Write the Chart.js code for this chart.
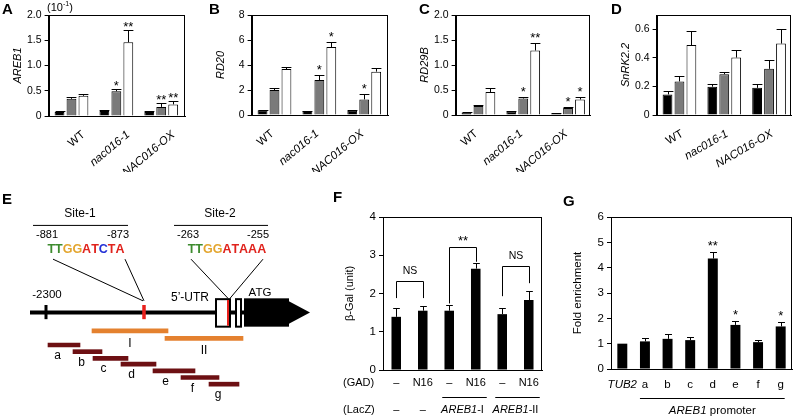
<!DOCTYPE html>
<html>
<head>
<meta charset="utf-8">
<script src="https://cdn.jsdelivr.net/npm/chart.js@4.4.1/dist/chart.umd.min.js"></script>
<style>
  body { margin: 0; background: #fff; }
  #fig { position: relative; width: 793px; height: 420px; overflow: hidden; font-family: "Liberation Sans", Arial, sans-serif; color: #000; }
  #fig canvas { position: absolute; }
  .tag { position: absolute; font-weight: bold; font-size: 15px; line-height: 15px; z-index: 2; }
  .unit { position: absolute; left: 47px; top: 1px; font-size: 11px; line-height: 13px; z-index: 2; }
  .unit sup { font-size: 7px; line-height: 0; }
</style>
</head>
<body>
<div id="fig">
  <div class="tag" style="left:2px;top:1px">A</div>
  <div class="tag" style="left:209px;top:1px">B</div>
  <div class="tag" style="left:419px;top:1px">C</div>
  <div class="tag" style="left:611px;top:1px">D</div>
  <div class="tag" style="left:2px;top:191px">E</div>
  <div class="tag" style="left:333px;top:189px">F</div>
  <div class="tag" style="left:563px;top:193px">G</div>
  <div class="unit">(10<sup>-1</sup>)</div>
  <canvas id="chartE"></canvas>
  <canvas id="chartA"></canvas>
  <canvas id="chartB"></canvas>
  <canvas id="chartC"></canvas>
  <canvas id="chartD"></canvas>
  <canvas id="chartF"></canvas>
  <canvas id="chartG"></canvas>
</div>
<script>
const FONT = '"Liberation Sans", Arial, sans-serif';
Chart.defaults.font.family = FONT;
Chart.defaults.color = '#000';

// ---------- data (A-D): rows are the black, grey and white bars ----------
const genotypes = ['WT', 'nac016-1', 'NAC016-OX'];
const barColors = ['#000000', '#7a7a7a', '#ffffff'];

const areb1Mean = [[0.08, 0.10, 0.08], [0.34, 0.49, 0.18], [0.40, 1.46, 0.23]];
const areb1Err = [[0.01, 0.01, 0.01], [0.03, 0.05, 0.07], [0.03, 0.25, 0.06]];
const areb1Sig = [['', '', ''], ['', '*', '**'], ['', '**', '**']];

const rd20Mean = [[0.38, 0.32, 0.35], [2.0, 2.8, 1.25], [3.68, 5.44, 3.47]];
const rd20Err = [[0.05, 0.03, 0.04], [0.2, 0.4, 0.43], [0.2, 0.4, 0.26]];
const rd20Sig = [['', '', ''], ['', '*', '*'], ['', '*', '']];

const rd29bMean = [[0.05, 0.07, 0.03], [0.18, 0.33, 0.14], [0.46, 1.29, 0.31]];
const rd29bErr = [[0.01, 0.01, 0.01], [0.02, 0.04, 0.02], [0.08, 0.14, 0.05]];
const rd29bSig = [['', '', ''], ['', '*', '*'], ['', '**', '*']];

const snrkMean = [[0.144, 0.198, 0.19], [0.235, 0.286, 0.323], [0.49, 0.402, 0.50]];
const snrkErr = [[0.026, 0.016, 0.03], [0.035, 0.016, 0.065], [0.096, 0.056, 0.10]];

// ---------- data (F) ----------
const gadLabels = ['–', 'N16', '–', 'N16', '–', 'N16'];
const lacZLabels = ['–', '–', 'AREB1|-I', 'AREB1|-II'];
const lacZSpans = [[0, 0], [1, 1], [2, 3], [4, 5]];
const galMean = [1.39, 1.55, 1.55, 2.65, 1.46, 1.83];
const galErr = [0.22, 0.13, 0.16, 0.15, 0.17, 0.24];
const bracketPairs = [[0, 1], [2, 3], [4, 5]];
const bracketTop = [2.33, 3.21, 2.72];
const bracketEnds = [[1.88, 1.88], [1.74, 2.83], [1.93, 2.27]];
const bracketText = ['NS', '**', 'NS'];

// ---------- data (G) ----------
const chipSites = ['TUB2', 'a', 'b', 'c', 'd', 'e', 'f', 'g'];
const chipMean = [1.0, 1.09, 1.19, 1.14, 4.36, 1.74, 1.06, 1.68];
const chipErr = [0, 0.13, 0.2, 0.14, 0.25, 0.17, 0.09, 0.18];
const chipSig = ['', '', '', '', '**', '*', '', '*'];

// ---------- data (E): promoter map in schematic units ----------
const fragNames = ['I', 'II', 'a', 'b', 'c', 'd', 'e', 'f', 'g'];
const fragFrom = [92, 165, 48, 73, 93, 121, 153, 181, 209];
const fragTo = [168, 243, 80, 102, 128, 156, 195, 219, 239];
const fragRow = [168, 177, 185, 193, 201, 208, 216, 224, 232];
const siteNames = ['Site-1', 'Site-2'];
const siteCoords = [['-881', '-873'], ['-263', '-255']];
const siteSeqs = ['TTGGATCTA', 'TTGGATAAA'];
const seqColors = {
  'TTGGATCTA': ['g', 'g', 'y', 'y', 'r', 'r', 'b', 'r', 'r'],
  'TTGGATAAA': ['g', 'g', 'y', 'y', 'r', 'r', 'r', 'r', 'r']
};
const baseColor = { g: '#3d8b2e', y: '#e3a52e', r: '#e0231d', b: '#2230d6' };

function place(id, left, top, width, height) {
  const c = document.getElementById(id);
  c.width = Math.round(width);
  c.height = Math.round(height);
  c.style.left = Math.round(left) + 'px';
  c.style.top = Math.round(top) + 'px';
  return c;
}

// error bars (upper only), significance marks and a box round the plot
function errPlugin(errs, sig, o) {
  return {
    id: 'errbars',
    afterDatasetsDraw(chart) {
      const { ctx, chartArea: a, scales: { y } } = chart;
      ctx.save();
      ctx.strokeStyle = '#000';
      ctx.fillStyle = '#000';
      ctx.lineWidth = 1;
      ctx.font = o.starSize + 'px ' + FONT;
      ctx.textAlign = 'center';
      ctx.textBaseline = 'alphabetic';
      chart.data.datasets.forEach((ds, di) => {
        chart.getDatasetMeta(di).data.forEach((bar, i) => {
          const raw = ds.data[i];
          const v = typeof raw === 'object' ? raw.y : raw;
          const e = errs[di][i];
          let top = bar.y;
          if (e) {
            const yt = Math.round(y.getPixelForValue(v + e)) + 0.5;
            const x = Math.round(bar.x) + 0.5;
            const hw = bar.width * o.cap / 2;
            ctx.beginPath();
            ctx.moveTo(x, bar.y);
            ctx.lineTo(x, yt);
            ctx.moveTo(x - hw, yt);
            ctx.lineTo(x + hw, yt);
            ctx.stroke();
            top = yt;
          }
          const s = sig && sig[di][i];
          if (s) ctx.fillText(s, bar.x, top - o.starGap + 0.57 * o.starSize);
        });
      });
      ctx.strokeRect(Math.round(a.left) + 0.5, Math.round(a.top) + 0.5, Math.round(a.width) - 1, Math.round(a.height));
      ctx.restore();
    }
  };
}

function groupChart(id, o) {
  const titleSize = 11;
  const left = o.plot[0] - 31 - titleSize * 0.6 - 1;
  const height = 172;
  const right = o.plot[2] + 12;
  place(id, left, 0, right - left, height);
  new Chart(id, {
    type: 'bar',
    data: {
      datasets: o.mean.map((m, s) => ({
        data: m.map((v, i) => ({ x: i, y: v })),
        backgroundColor: barColors[s],
        borderColor: '#000',
        borderWidth: 1,
        categoryPercentage: 0.8,
        barPercentage: 0.82
      }))
    },
    options: {
      responsive: false,
      animation: false,
      devicePixelRatio: 1,
      layout: { padding: { left: 0, top: o.plot[1], right: right - o.plot[2], bottom: 0 } },
      plugins: { legend: { display: false }, tooltip: { enabled: false } },
      scales: {
        x: {
          type: 'linear',
          min: -0.51,
          max: o.xMax,
          offset: false,
          grid: { display: false },
          border: { color: '#000' },
          afterBuildTicks: s => { s.ticks = genotypes.map((g, i) => ({ value: i })); },
          afterFit: s => { s.height = height - o.plot[3]; },
          ticks: {
            callback: (v, i) => genotypes[i],
            autoSkip: false,
            minRotation: o.rot,
            maxRotation: o.rot,
            padding: 4,
            labelOffset: o.labelOffset,
            font: c => ({ size: 11.5, style: c.index === 0 ? 'normal' : 'italic' })
          }
        },
        y: {
          min: 0,
          max: o.yMax,
          border: { color: '#000' },
          grid: { drawOnChartArea: false, color: '#000', tickLength: 4 },
          afterBuildTicks: s => { s.ticks = s.ticks.filter(t => t.value <= o.yTop + 1e-9); },
          afterFit: s => { s.width = o.plot[0] - left; },
          ticks: { stepSize: o.step, font: { size: 10.5 }, padding: 3 },
          title: { display: true, text: o.title, font: { size: titleSize, style: 'italic' }, padding: { top: 1, bottom: 0 } }
        }
      }
    },
    plugins: [errPlugin(o.err, o.sig, { cap: 1, starSize: 13, starGap: o.starGap })]
  });
}

groupChart('chartA', { plot: [49, 15, 185, 116], xMax: 2.53, yMax: 2, yTop: 2, step: 0.5, title: 'AREB1',
  mean: areb1Mean, err: areb1Err, sig: areb1Sig, rot: 40, labelOffset: 12, starGap: 7 });
groupChart('chartB', { plot: [252, 15, 388, 115], xMax: 2.53, yMax: 8, yTop: 8, step: 2, title: 'RD20',
  mean: rd20Mean, err: rd20Err, sig: rd20Sig, rot: 40, labelOffset: -2, starGap: 9 });
groupChart('chartC', { plot: [456, 15, 590, 115], xMax: 2.49, yMax: 2, yTop: 2, step: 0.5, title: 'RD29B',
  mean: rd29bMean, err: rd29bErr, sig: rd29bSig, rot: 40, labelOffset: -2, starGap: 8.5 });
groupChart('chartD', { plot: [657, 15, 791, 115], xMax: 2.49, yMax: 0.7, yTop: 0.6, step: 0.2, title: 'SnRK2.2',
  mean: snrkMean, err: snrkErr, sig: null, rot: 30, labelOffset: 3, starGap: 8 });

// italic + upright pieces centred on cx
function mixedText(ctx, parts, cx, y, size) {
  const fonts = parts.map(p => (p[1] ? 'italic ' : '') + size + 'px ' + FONT);
  const widths = parts.map((p, i) => { ctx.font = fonts[i]; return ctx.measureText(p[0]).width; });
  let x = cx - widths.reduce((a, b) => a + b, 0) / 2;
  ctx.textAlign = 'left';
  parts.forEach((p, i) => { ctx.font = fonts[i]; ctx.fillText(p[0], x, y); x += widths[i]; });
}

function singleChart(id, o) {
  const titleLh = o.titleSize * 1.2;
  place(id, o.box[0], o.box[1], o.box[2] - o.box[0], o.box[3] - o.box[1]);
  return new Chart(id, {
    type: 'bar',
    data: {
      labels: o.labels,
      datasets: [{
        data: o.mean,
        backgroundColor: '#000',
        borderWidth: 0,
        categoryPercentage: 1,
        barPercentage: o.barPct
      }]
    },
    options: {
      responsive: false,
      animation: false,
      devicePixelRatio: 1,
      layout: { padding: { left: 0, top: o.plot[1] - o.box[1], right: o.box[2] - o.plot[2], bottom: 0 } },
      plugins: { legend: { display: false }, tooltip: { enabled: false } },
      scales: {
        x: {
          grid: { display: false },
          border: { color: '#000' },
          ticks: { display: false },
          afterFit: s => { s.height = o.box[3] - o.plot[3]; }
        },
        y: {
          min: 0,
          max: o.yMax,
          border: { color: '#000' },
          grid: { drawOnChartArea: false, color: '#000', tickLength: 4 },
          afterFit: s => { s.width = o.plot[0] - o.box[0]; },
          ticks: { stepSize: 1, font: { size: 11.5 }, padding: 3 },
          title: { display: true, text: o.title, font: { size: o.titleSize },
            padding: { top: o.titleX - o.box[0] - titleLh / 2, bottom: 0 } }
        }
      }
    },
    plugins: [errPlugin([o.err], [o.sig || []], { cap: 0.7, starSize: 13, starGap: o.starGap }), o.extra]
  });
}

// F: beta-Gal assay with brackets and two label rows
singleChart('chartF', {
  box: [338, 185, 548, 420], plot: [383, 217, 542, 370], yMax: 4, title: 'β-Gal (unit)', titleSize: 11, titleX: 350,
  labels: gadLabels, mean: galMean, err: galErr, barPct: 0.36, starGap: 9,
  extra: {
    id: 'fLabels',
    afterDraw(chart) {
      const { ctx, chartArea: a, scales: { x, y } } = chart;
      ctx.save();
      ctx.fillStyle = '#000';
      ctx.strokeStyle = '#000';
      ctx.lineWidth = 1;
      ctx.textBaseline = 'middle';
      // brackets
      bracketPairs.forEach((p, k) => {
        const x0 = Math.round(x.getPixelForValue(p[0])) + 0.5;
        const x1 = Math.round(x.getPixelForValue(p[1])) + 0.5;
        const yt = Math.round(y.getPixelForValue(bracketTop[k])) + 0.5;
        ctx.beginPath();
        ctx.moveTo(x0, y.getPixelForValue(bracketEnds[k][0]));
        ctx.lineTo(x0, yt);
        ctx.lineTo(x1, yt);
        ctx.lineTo(x1, y.getPixelForValue(bracketEnds[k][1]));
        ctx.stroke();
        const t = bracketText[k];
        ctx.textAlign = 'center';
        if (t === 'NS') {
          ctx.font = '10.5px ' + FONT;
          ctx.fillText(t, (x0 + x1) / 2, yt - 10);
        } else {
          ctx.font = '13px ' + FONT;
          ctx.textBaseline = 'alphabetic';
          ctx.fillText(t, (x0 + x1) / 2, yt - 10 + 0.57 * 13);
          ctx.textBaseline = 'middle';
        }
      });
      // (GAD) row
      ctx.font = '11px ' + FONT;
      ctx.textAlign = 'left';
      ctx.fillText('(GAD)', a.left - 40, a.bottom + 13);
      ctx.fillText('(LacZ)', a.left - 40, a.bottom + 40);
      ctx.textAlign = 'center';
      gadLabels.forEach((t, i) => ctx.fillText(t, x.getPixelForValue(i), a.bottom + 13));
      // (LacZ) row
      lacZLabels.forEach((t, k) => {
        const [i0, i1] = lacZSpans[k];
        const cx = (x.getPixelForValue(i0) + x.getPixelForValue(i1)) / 2;
        if (t.includes('|')) {
          const [it, up] = t.split('|');
          mixedText(ctx, [[it, true], [up, false]], cx, a.bottom + 40, 11);
          const ly = Math.round(a.bottom + 27) + 0.5;
          ctx.beginPath();
          ctx.moveTo(x.getPixelForValue(i0) - 7, ly);
          ctx.lineTo(x.getPixelForValue(i1) + 11, ly);
          ctx.stroke();
        } else {
          ctx.font = '11px ' + FONT;
          ctx.textAlign = 'center';
          ctx.fillText(t, cx, a.bottom + 40);
        }
      });
      ctx.restore();
    }
  }
});

// G: ChIP fold enrichment
singleChart('chartG', {
  box: [570, 185, 793, 420], plot: [611, 217, 792, 369], yMax: 6, title: 'Fold enrichment', titleSize: 11.5, titleX: 578,
  labels: chipSites, mean: chipMean, err: chipErr, sig: chipSig, barPct: 0.44, starGap: 10,
  extra: {
    id: 'gLabels',
    afterDraw(chart) {
      const { ctx, chartArea: a, scales: { x } } = chart;
      ctx.save();
      ctx.fillStyle = '#000';
      ctx.strokeStyle = '#000';
      ctx.lineWidth = 1;
      ctx.textBaseline = 'middle';
      ctx.textAlign = 'center';
      chipSites.forEach((t, i) => {
        ctx.font = (i === 0 ? 'italic ' : '') + '11.5px ' + FONT;
        ctx.fillText(t, x.getPixelForValue(i), a.bottom + 16);
      });
      const x0 = x.getPixelForValue(1) - 5;
      const x1 = x.getPixelForValue(chipSites.length - 1) + 4;
      const ly = Math.round(a.bottom + 29) + 0.5;
      ctx.beginPath();
      ctx.moveTo(x0, ly);
      ctx.lineTo(x1, ly);
      ctx.stroke();
      mixedText(ctx, [['AREB1', true], [' promoter', false]], (x0 + x1) / 2, a.bottom + 42, 11.5);
      ctx.restore();
    }
  }
});

// E: promoter map; fragments are floating bars, the rest is drawn on the same scales
place('chartE', 0, 170, 318, 250);
new Chart('chartE', {
  type: 'bar',
  data: {
    datasets: [{
      data: fragNames.map((n, i) => ({ x: [fragFrom[i], fragTo[i]], y: fragRow[i] })),
      backgroundColor: fragNames.map((n, i) => (i < 2 ? '#e4812f' : '#6d1013')),
      borderWidth: 0,
      barThickness: 4
    }]
  },
  options: {
    indexAxis: 'y',
    responsive: false,
    animation: false,
    devicePixelRatio: 1,
    layout: { padding: 0 },
    plugins: { legend: { display: false }, tooltip: { enabled: false } },
    scales: {
      x: { type: 'linear', min: 0, max: 318, display: false },
      y: { type: 'linear', min: 0, max: 250, reverse: true, display: false }
    }
  },
  plugins: [{
    id: 'geneMap',
    afterDraw(chart) {
      const { ctx, scales: { x, y } } = chart;
      const X = v => x.getPixelForValue(v);
      const Y = v => y.getPixelForValue(v);
      const line = (x0, y0, x1, y1, w, c) => {
        ctx.beginPath();
        ctx.strokeStyle = c || '#000';
        ctx.lineWidth = w || 1;
        ctx.moveTo(X(x0), Y(y0));
        ctx.lineTo(X(x1), Y(y1));
        ctx.stroke();
      };
      const text = (t, cx, cy, size, bold) => {
        ctx.font = (bold ? 'bold ' : '') + size + 'px ' + FONT;
        ctx.textAlign = 'center';
        ctx.textBaseline = 'middle';
        ctx.fillStyle = '#000';
        ctx.fillText(t, X(cx), Y(cy));
      };
      ctx.save();
      // site headers
      const siteCx = [80, 220];
      const siteRule = [[33, 128], [174, 268]];
      const coordX = [[47, 118], [188, 258]];
      const seqCx = [85, 226];
      siteNames.forEach((s, k) => {
        text(s, siteCx[k], 28, 12);
        line(siteRule[k][0], 41.5, siteRule[k][1], 41.5);
        text(siteCoords[k][0], coordX[k][0], 53, 11);
        text(siteCoords[k][1], coordX[k][1], 53, 11);
        const seq = siteSeqs[k];
        ctx.font = 'bold 12.5px ' + FONT;
        const w = ctx.measureText(seq).width;
        let px = X(seqCx[k]) - w / 2;
        ctx.textAlign = 'left';
        ctx.textBaseline = 'middle';
        seq.split('').forEach((ch, j) => {
          ctx.fillStyle = baseColor[seqColors[seq][j]];
          ctx.fillText(ch, px, Y(70));
          px += ctx.measureText(ch).width;
        });
      });
      // leader lines
      line(53, 82, 143, 132);
      line(125, 82, 144, 132);
      line(191, 82, 228, 129);
      line(263, 82, 230, 129);
      // main line and arrow
      line(30, 146, 290, 146, 4);
      ctx.fillStyle = '#000';
      ctx.beginPath();
      ctx.moveTo(X(288), Y(132));
      ctx.lineTo(X(310), Y(146));
      ctx.lineTo(X(288), Y(160));
      ctx.closePath();
      ctx.fill();
      // -2300 tick and site-1 mark
      line(46, 137, 46, 154, 3);
      line(144, 137, 144, 154, 3.5, '#e8201c');
      // 5'-UTR boxes
      ctx.fillStyle = '#fff';
      ctx.strokeStyle = '#000';
      ctx.lineWidth = 2;
      ctx.fillRect(X(216), Y(130), X(230) - X(216), Y(163) - Y(130));
      ctx.strokeRect(X(216), Y(130), X(230) - X(216), Y(163) - Y(130));
      ctx.fillRect(X(236), Y(130), X(241) - X(236), Y(163) - Y(130));
      ctx.strokeRect(X(236), Y(130), X(241) - X(236), Y(163) - Y(130));
      line(228, 131, 228, 162, 2, '#e8201c');
      // ATG block
      ctx.fillStyle = '#000';
      ctx.fillRect(X(244), Y(129), X(289) - X(244), Y(163) - Y(129));
      // labels
      text('-2300', 47, 125, 11.5);
      text('5’-UTR', 190, 128, 12);
      text('ATG', 260, 122, 11.5);
      // fragment names
      chart.getDatasetMeta(0).data.forEach((bar, i) => {
        const orange = i < 2;
        const lx = orange ? (fragFrom[i] + fragTo[i]) / 2 : fragFrom[i] + 0.3 * (fragTo[i] - fragFrom[i]);
        text(fragNames[i], lx, fragRow[i] + (orange ? 15 : 13), 12);
      });
      ctx.restore();
    }
  }]
});
</script>
</body>
</html>
